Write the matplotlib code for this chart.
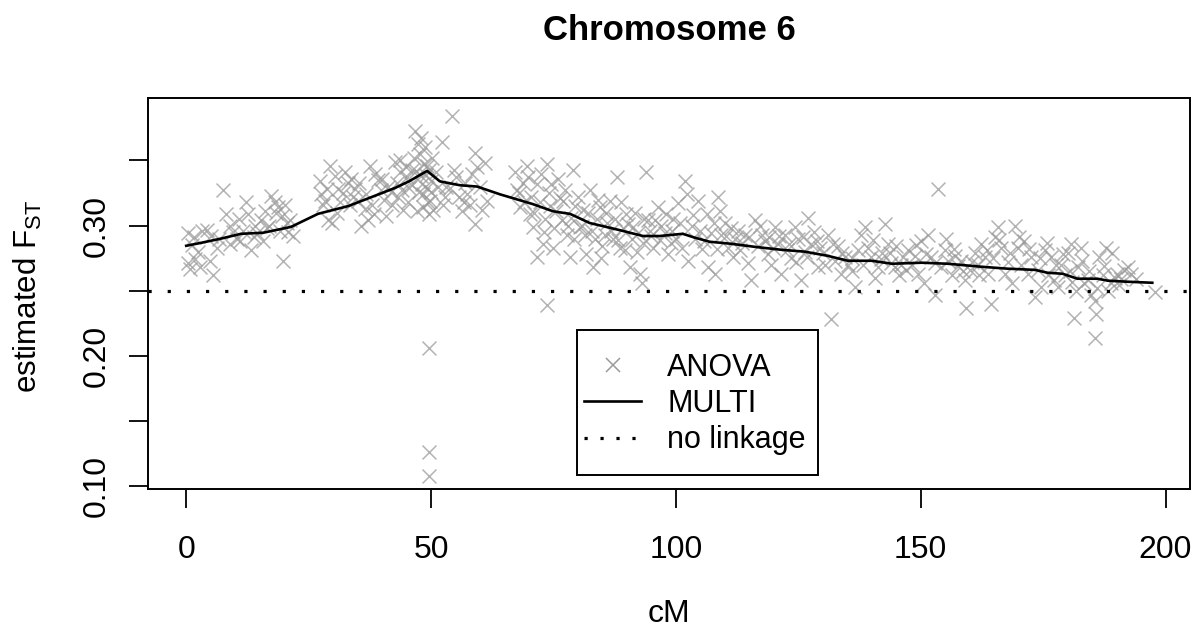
import matplotlib
matplotlib.use("Agg")
import matplotlib.pyplot as plt
from matplotlib.lines import Line2D
from matplotlib.patches import Rectangle

# ANOVA single-marker estimates (cM, Fst)
anova_cm = [
    0.3, 0.3, 0.8, 1.2, 1.8, 2.5, 3.2, 4.3, 4.8, 5.5, 6.2, 6.8, 7.6, 8.2, 8.9, 9.5,
    10.3, 11.0, 11.5, 12.3, 12.7, 13.3, 14.0, 14.4, 15.2, 15.7, 16.5, 17.4, 18.1,
    18.4, 18.8, 19.5, 19.8, 20.1, 20.5, 20.8, 21.8,
    27.3, 27.6, 28.0, 28.3, 29.0, 29.3, 29.8, 30.3, 31.0, 31.5, 32.4, 33.1, 33.7,
    34.0, 34.4, 35.0, 35.8, 36.5, 37.1, 37.5, 38.0, 38.5, 39.2, 39.8, 40.3, 40.9,
    41.2, 42.0, 42.6, 43.2, 43.6, 43.7, 44.3, 45.0, 45.5, 46.2, 46.7, 47.1, 47.4,
    47.8, 47.9, 48.1, 48.4, 48.6, 48.8, 49.1, 49.3, 49.5, 49.5, 49.5, 49.5, 49.8,
    49.9, 50.2,
    51.0, 52.2, 52.5, 53.0, 53.9, 54.2, 55.2, 55.8, 56.3, 57.0, 57.3, 58.0, 59.0,
    59.3, 59.0, 60.0, 61.0, 61.4,
    67.2, 67.5, 68.2, 68.8, 69.5, 70.2, 70.5, 70.9, 71.6, 71.6, 72.2, 72.9, 73.2,
    73.6, 73.6, 74.0, 74.6, 75.2, 75.6, 76.3, 77.0, 77.7, 78.3, 78.6, 79.0, 79.5,
    80.4, 81.0, 81.7, 82.4, 82.8, 83.1, 83.8, 84.5, 85.0, 85.5, 86.0, 86.5, 87.2,
    87.9, 88.5, 89.2, 89.9, 90.6, 91.0, 91.3, 92.0, 92.6, 93.0, 93.5, 94.0, 94.3,
    95.0, 95.4, 96.4, 97.0, 97.7, 98.4, 99.0, 99.5, 100.5, 101.2, 101.8, 102.2,
    102.5, 103.2, 104.0, 104.6, 105.3, 106.3, 106.6, 107.2, 108.0, 108.7, 109.0,
    109.3, 110.0, 110.7, 112.0, 113.0, 114.1, 114.8, 115.4, 116.1, 116.8, 117.5,
    118.2, 118.8, 119.5, 120.2, 120.8, 121.5, 122.2, 122.8, 123.6, 124.3, 125.0,
    125.6, 126.3, 127.0, 127.7, 128.3, 129.0, 130.0, 131.1, 131.6, 132.5, 133.2,
    133.8, 134.5, 135.2, 135.9, 136.5, 137.2, 137.9, 138.6, 139.3, 139.9, 140.6,
    141.3, 142.0, 142.7, 143.3, 144.0, 144.7, 145.5, 146.4, 147.4, 148.3, 149.5,
    150.1, 150.6, 151.5, 152.2, 152.9, 153.5, 154.2, 154.9, 155.6, 156.3, 157.0,
    157.6, 158.3, 159.0, 159.3, 160.0, 161.0, 161.7, 162.4, 163.1, 163.8, 164.4,
    165.1, 165.8, 166.5, 167.2, 167.9, 168.6, 169.2, 169.9, 170.5, 171.2, 171.9,
    172.6, 173.3, 174.0, 174.6, 175.3, 176.0, 176.7, 177.3, 178.0, 178.7, 179.4,
    180.1, 180.7, 181.4, 181.8, 182.1, 182.8, 183.4, 184.1, 184.8, 185.5, 185.5,
    185.8, 186.5, 187.2, 187.9, 188.2, 188.9, 189.6, 190.5, 191.5, 192.3, 194.0,
    197.8,
    1.5, 2.8, 5.0, 9.0, 10.8, 13.8, 16.0, 17.0, 19.2, 21.2,
    28.8, 30.8, 32.0, 33.5, 35.3, 36.8, 38.3, 40.0, 41.8, 43.0, 44.0, 44.8, 45.3,
    46.0, 46.5, 47.0, 47.5, 48.0, 48.3, 48.9, 49.2, 49.6, 50.0, 50.5, 51.5, 52.8,
    54.6, 56.8, 58.4, 60.5,
    68.0, 69.0, 69.8, 71.0, 72.5, 73.0, 74.3, 75.0, 75.9, 76.8, 77.4, 78.0, 79.2,
    80.0, 80.8, 81.4, 82.0, 83.4, 84.0, 84.8, 85.8, 86.8, 87.5, 88.2, 88.8, 89.6,
    90.3, 91.7, 92.3, 93.3, 94.7, 95.7, 96.8, 98.0, 99.3, 100.0, 100.8,
    103.6, 105.0, 105.8, 107.8, 108.4, 110.3, 111.2, 111.6, 112.6, 113.5, 115.0,
    117.2, 119.0, 119.8, 121.0, 123.2, 124.6, 126.0, 126.8, 128.8, 129.5, 130.5,
    132.0, 134.0, 136.0, 138.2, 140.2, 141.8, 143.8, 145.0, 146.0, 147.0, 148.8,
    149.0,
    151.0, 153.0, 155.2, 156.8, 158.6, 160.5, 162.0, 163.5, 164.8, 166.0, 168.2,
    170.0, 172.2, 174.3, 175.8, 177.6, 179.0, 180.4, 181.0, 183.0, 184.4, 186.0,
    187.5, 189.0, 190.0, 191.0, 193.0,
]
anova_fst = [
    0.294, 0.271, 0.267, 0.285, 0.274, 0.280, 0.296, 0.297, 0.273, 0.262, 0.283,
    0.290, 0.327, 0.309, 0.300, 0.295, 0.290, 0.288, 0.296, 0.318, 0.309, 0.281,
    0.300, 0.294, 0.304, 0.288, 0.298, 0.323, 0.318, 0.310, 0.314, 0.307, 0.273,
    0.316, 0.302, 0.295, 0.292,
    0.334, 0.324, 0.316, 0.319, 0.304, 0.346, 0.302, 0.338, 0.328, 0.318, 0.341,
    0.333, 0.336, 0.322, 0.328, 0.319, 0.300, 0.313, 0.304, 0.346, 0.316, 0.340,
    0.335, 0.327, 0.320, 0.307, 0.330, 0.316, 0.349, 0.322, 0.341, 0.350, 0.312,
    0.337, 0.329, 0.343, 0.373, 0.311, 0.363, 0.355, 0.338, 0.332, 0.324, 0.347,
    0.360, 0.346, 0.318, 0.309, 0.206, 0.126, 0.108, 0.319, 0.334, 0.352,
    0.341, 0.364, 0.316, 0.330, 0.329, 0.384, 0.337, 0.322, 0.311, 0.333, 0.324,
    0.316, 0.356, 0.345, 0.301, 0.330, 0.348, 0.319,
    0.341, 0.327, 0.314, 0.333, 0.346, 0.309, 0.322, 0.299, 0.276, 0.332, 0.318,
    0.286, 0.305, 0.347, 0.239, 0.325, 0.332, 0.298, 0.311, 0.321, 0.319, 0.293,
    0.276, 0.306, 0.343, 0.315, 0.299, 0.312, 0.278, 0.327, 0.296, 0.268, 0.305,
    0.314, 0.284, 0.293, 0.302, 0.319, 0.290, 0.337, 0.283, 0.298, 0.309, 0.268,
    0.290, 0.299, 0.280, 0.263, 0.256, 0.305, 0.341, 0.304, 0.292, 0.283, 0.314,
    0.300, 0.294, 0.278, 0.287, 0.305, 0.317, 0.283, 0.334, 0.324,
    0.273, 0.300, 0.290, 0.319, 0.282, 0.309, 0.268, 0.294, 0.263, 0.322, 0.311,
    0.293, 0.302, 0.283, 0.290, 0.281, 0.293, 0.271, 0.258, 0.304, 0.284, 0.293,
    0.288, 0.278, 0.270, 0.299, 0.286, 0.263, 0.293, 0.281, 0.275, 0.299, 0.290,
    0.258, 0.280, 0.306, 0.286, 0.295, 0.268, 0.279, 0.293, 0.228, 0.273, 0.284,
    0.263, 0.276, 0.270, 0.265, 0.253, 0.281, 0.293, 0.299, 0.283, 0.276, 0.260,
    0.268, 0.279, 0.301, 0.286, 0.271, 0.268, 0.262, 0.276, 0.281, 0.270, 0.263,
    0.288, 0.256, 0.293, 0.276, 0.247, 0.328, 0.268, 0.281, 0.273, 0.262, 0.277,
    0.269, 0.273, 0.258, 0.237, 0.266, 0.279, 0.270, 0.286, 0.276, 0.263, 0.240,
    0.291, 0.299, 0.283, 0.263, 0.272, 0.256, 0.300, 0.283, 0.270, 0.288, 0.263,
    0.276, 0.245, 0.266, 0.253, 0.281, 0.262, 0.276, 0.258, 0.253, 0.270, 0.262,
    0.279, 0.286, 0.229, 0.250, 0.268, 0.283, 0.256, 0.258, 0.247, 0.242, 0.214,
    0.232, 0.276, 0.262, 0.283, 0.250, 0.256, 0.260, 0.254, 0.266, 0.268, 0.259,
    0.249,
    0.291, 0.268, 0.292, 0.286, 0.305, 0.291, 0.311, 0.300, 0.296, 0.304,
    0.328, 0.310, 0.325, 0.316, 0.333, 0.324, 0.309, 0.336, 0.326, 0.333, 0.327,
    0.345, 0.318, 0.332, 0.352, 0.342, 0.326, 0.367, 0.314, 0.339, 0.329, 0.343,
    0.326, 0.312, 0.330, 0.322, 0.343, 0.318, 0.340, 0.312,
    0.325, 0.318, 0.337, 0.310, 0.340, 0.295, 0.315, 0.283, 0.336, 0.304, 0.327,
    0.300, 0.290, 0.322, 0.300, 0.293, 0.310, 0.290, 0.320, 0.275, 0.310, 0.296,
    0.305, 0.289, 0.318, 0.281, 0.301, 0.310, 0.294, 0.287, 0.296, 0.304, 0.289,
    0.309, 0.296, 0.290, 0.302,
    0.308, 0.296, 0.288, 0.302, 0.282, 0.292, 0.298, 0.276, 0.296, 0.287, 0.291,
    0.300, 0.291, 0.283, 0.292, 0.286, 0.272, 0.291, 0.276, 0.288, 0.283, 0.270,
    0.286, 0.279, 0.275, 0.270, 0.289, 0.274, 0.279, 0.284, 0.270, 0.266, 0.277,
    0.285,
    0.278, 0.271, 0.290, 0.282, 0.265, 0.272, 0.262, 0.281, 0.275, 0.289, 0.279,
    0.291, 0.282, 0.275, 0.287, 0.270, 0.278, 0.265, 0.257, 0.273, 0.265, 0.252,
    0.269, 0.279, 0.263, 0.259, 0.263,
]

# multipoint estimate
multi_cm = [0.0, 3.1, 7.1, 11.2, 15.7, 21.4, 26.9, 33.1, 38.6, 42.7, 45.5, 49.2,
            51.8, 55.9, 59.4, 64.1, 70.8, 74.9, 78.4, 82.4, 88.0, 93.3, 96.7,
            101.4, 103.9, 106.9, 111.4, 116.1, 121.6, 126.3, 131.0, 135.1, 140.0,
            144.1, 150.2, 155.5, 162.4, 167.8, 173.3, 175.9, 179.0, 182.0, 186.1,
            188.2, 192.2, 197.3]
multi_fst = [0.2845, 0.2868, 0.2900, 0.2937, 0.2945, 0.2990, 0.3090, 0.3150,
             0.3230, 0.3290, 0.3340, 0.3420, 0.3340, 0.3310, 0.3300, 0.3240,
             0.3165, 0.3110, 0.3090, 0.3020, 0.2970, 0.2920, 0.2920, 0.2937,
             0.2907, 0.2876, 0.2860, 0.2837, 0.2814, 0.2800, 0.2768, 0.2730,
             0.2730, 0.2707, 0.2715, 0.2707, 0.2684, 0.2669, 0.2660, 0.2638,
             0.2630, 0.2592, 0.2592, 0.2577, 0.2569, 0.2561]

no_linkage = 0.25

plt.rcParams['font.family'] = ['Liberation Sans', 'DejaVu Sans']
plt.rcParams['mathtext.fontset'] = 'custom'
plt.rcParams['mathtext.rm'] = 'Liberation Sans'

W, H = 1198, 634
fig = plt.figure(figsize=(W / 100, H / 100), dpi=100)
ax = fig.add_axes([148 / W, 1 - 489 / H, (1190 - 148) / W, (489 - 98) / H])

ax.scatter(anova_cm, anova_fst, marker='x', s=100, color='#9a9a9a',
           linewidths=1.1, alpha=0.75, zorder=2)
ax.plot(multi_cm, multi_fst, color='black', lw=1.9, zorder=3)
ax.axhline(no_linkage, color='black', lw=2.3, linestyle=(0, (1, 5)), zorder=3)

ax.set_xlim(-7.8, 205)
ax.set_ylim(0.0977, 0.398)
ax.set_xticks([0, 50, 100, 150, 200])
ax.set_yticks([0.10, 0.15, 0.20, 0.25, 0.30, 0.35])
ax.set_yticklabels(['0.10', '', '0.20', '', '0.30', ''], rotation=90, va='center')
ax.tick_params(length=14, width=1.3, labelsize=23)
ax.tick_params(axis='x', pad=19)
ax.tick_params(axis='y', pad=12)
for s in ax.spines.values():
    s.set_linewidth(1.4)

fig.text(669 / W, 1 - 30 / H, 'Chromosome 6', ha='center', va='center',
         fontsize=25, fontweight='bold')
fig.text(669 / W, 1 - 614 / H, 'cM', ha='center', va='center', fontsize=23)
fig.text(28 / W, 1 - 296 / H, r'estimated F$_{\mathrm{ST}}$', ha='center',
         va='center', rotation=90, fontsize=22.5)

# legend box drawn separately (R-style tight left padding)
fig.patches.append(Rectangle((577 / W, 1 - 475 / H), (818 - 577) / W, (475 - 330) / H,
                             transform=fig.transFigure, fill=True, facecolor='white',
                             edgecolor='black', lw=1.4, zorder=5))
handles = [
    Line2D([], [], marker='x', color='#9a9a9a', linestyle='none', markersize=10,
           markeredgewidth=1.1),
    Line2D([], [], color='black', lw=1.9),
    Line2D([], [], color='black', lw=2.3, linestyle=(0, (1, 4))),
]
leg = fig.legend(handles, ['ANOVA', 'MULTI', 'no linkage'],
                 loc='upper left', bbox_to_anchor=(584 / W, 1 - 353 / H),
                 borderaxespad=0, borderpad=0, frameon=False,
                 fontsize=22, handlelength=1.87, handletextpad=0.85,
                 labelspacing=0.2)
leg.set_zorder(6)

fig.savefig('out.png', dpi=100)
